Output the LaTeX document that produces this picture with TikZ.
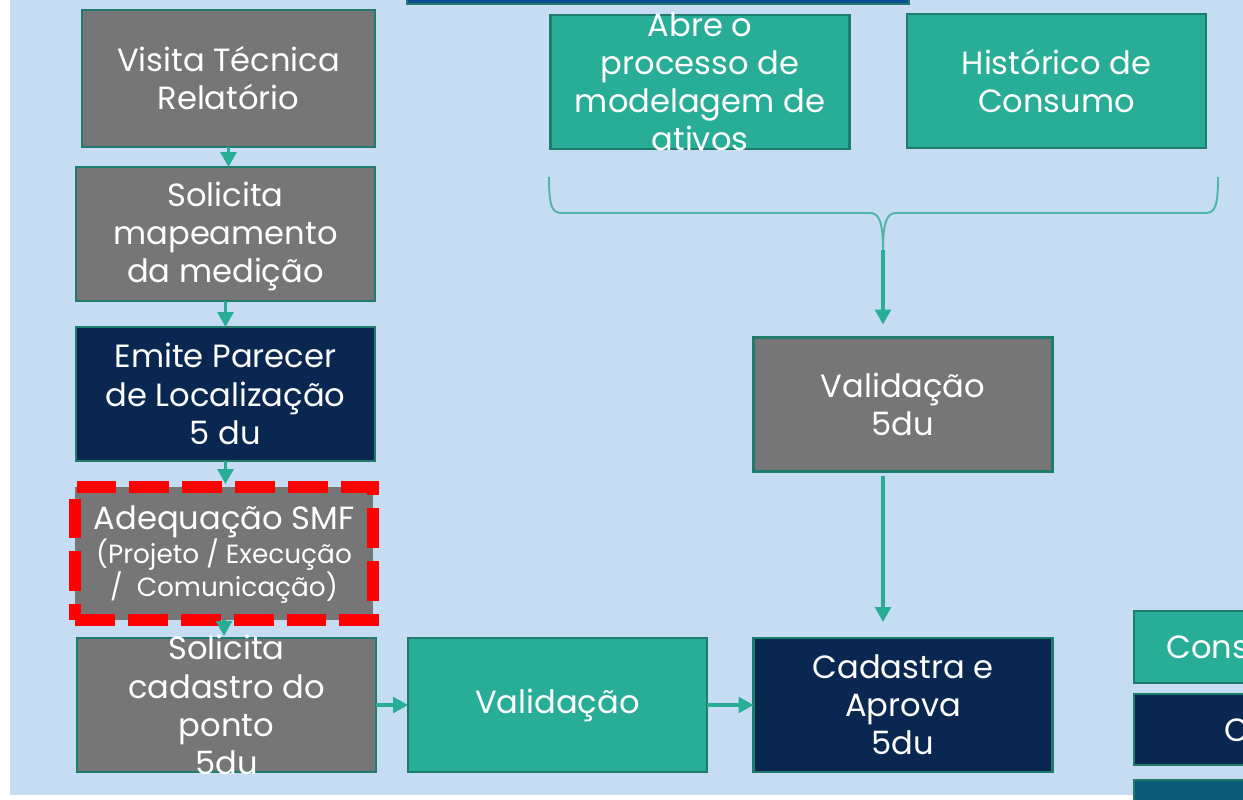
\documentclass[tikz,border=0pt]{standalone}
\usepackage{fontspec}
\setmainfont{Poppins}
\usetikzlibrary{arrows.meta}
\definecolor{bgblue}{HTML}{C6DCF3}
\definecolor{boxgray}{HTML}{767676}
\definecolor{boxgreen}{HTML}{28AE96}
\definecolor{boxnavy}{HTML}{0A2751}
\definecolor{topblue}{HTML}{0B4E93}
\definecolor{legteal}{HTML}{0D5A78}
\definecolor{edge}{HTML}{1F7B6B}
\definecolor{bracecol}{HTML}{4DB7A7}
\begin{document}
\begin{tikzpicture}[x=0.02cm,y=-0.02cm,
  box/.style={draw=edge, line width=1.3pt, minimum width=5.98cm, minimum height=2.68cm, inner sep=0pt, outer sep=0pt},
  graybox/.style={box, fill=boxgray},
  greenbox/.style={box, fill=boxgreen},
  navybox/.style={box, fill=boxnavy},
  txt/.style={text=white, align=center, inner sep=0pt, font=\fontsize{18.3}{21.7}\selectfont},
  arr/.style={draw=boxgreen, line width=1.8pt, -{Triangle[width=9pt,length=8.5pt]}},
  brace/.style={draw=bracecol, line width=1.1pt}]
\useasboundingbox (0,0) rectangle (1243,800);
\clip (0,0) rectangle (1243,800);
\fill[bgblue] (10,0) rectangle (1243,795);

\node[box, fill=topblue, minimum width=10.04cm] (topo) at (658,-63) {};

\node[graybox, minimum width=5.86cm, minimum height=2.74cm] (visita) at (228.5,78.5) {};
\node[txt] (visita-t) at (visita) {Visita Técnica\\Relatório};
\node[graybox] (solmap) at (225.5,234) {};
\node[txt] (solmap-t) at ([yshift=-0.05cm]solmap) {Solicita\\mapeamento\\da medição};
\node[navybox] (parecer) at (225.5,394) {};
\node[txt] (parecer-t) at (parecer) {Emite Parecer\\de Localização\\5 du};
\node[graybox, draw=red, line width=6.8pt, dash pattern=on 22.7pt off 7.4pt, minimum width=5.96cm, minimum height=2.66cm] (adequa) at (224,553.5) {};
\node[txt] (adequa-t) at ([yshift=-0.02cm]adequa) {Adequação SMF\\[-2pt]\fontsize{15}{17}\selectfont(Projeto / Execução\\[-3pt]\fontsize{15}{17}\selectfont/ \ Comunicação)};
\node[graybox] (solcad) at (226.5,705) {};
\node[txt] (solcad-t) at (solcad) {Solicita\\cadastro do\\ponto\\5du};
\node[greenbox] (valid1) at (557.5,705) {};
\node[txt] (valid1-t) at (valid1) {Validação};
\node[navybox] (cadastra) at (903,705) {};
\node[txt] (cadastra-t) at (cadastra) {Cadastra e\\Aprova\\5du};
\node[graybox] (valid2) at (903,404.5) {};
\node[txt] (valid2-t) at (valid2) {Validação\\5du};
\node[greenbox] (abre) at (700,82) {};
\node[txt] (abre-t) at (abre) {Abre o\\processo de\\modelagem de\\ativos};
\node[greenbox] (hist) at (1056.5,81) {};
\node[txt] (hist-t) at (hist) {Histórico de\\Consumo};

\node[greenbox, minimum width=3.4cm, minimum height=1.44cm] (leg1) at (1219,647) {};
\node[txt, anchor=west] (leg1-t) at (1166,647) {Cons};
\node[navybox, minimum width=3.4cm, minimum height=1.42cm] (leg2) at (1219,729.5) {};
\node[txt, anchor=west] (leg2-t) at (1224,730) {C};
\node[box, fill=legteal, minimum width=3.4cm, minimum height=1.2cm] (leg3) at (1219,810) {};

\coordinate (bracetip) at (883,250);
\draw[brace] (549,177) .. controls (549,207) and (552,213) .. (562,213) -- (870,213) .. controls (879,213) and (883,222) .. (bracetip);
\draw[brace] (1218,177) .. controls (1218,207) and (1215,213) .. (1205,213) -- (896,213) .. controls (887,213) and (883,222) .. (bracetip);

\draw[arr, shorten >=0.26cm] (bracetip) -- (bracetip |- valid2.north);
\draw[arr, shorten <=0.1cm, shorten >=0.32cm] (bracetip |- valid2.south) -- (bracetip |- cadastra.north);
\draw[arr] (visita.south) -- (visita.south |- solmap.north);
\draw[arr] (solmap.south) -- (solmap.south |- parecer.north);
\draw[arr, shorten >=0.06cm] (parecer.south) -- (parecer.south |- adequa.north);
\draw[arr, shorten >=0.04cm] (adequa.south) -- (adequa.south |- solcad.north);
\draw[arr] (solcad.east) -- (valid1.west);
\draw[arr] (valid1.east) -- (cadastra.west);
\end{tikzpicture}
\end{document}
